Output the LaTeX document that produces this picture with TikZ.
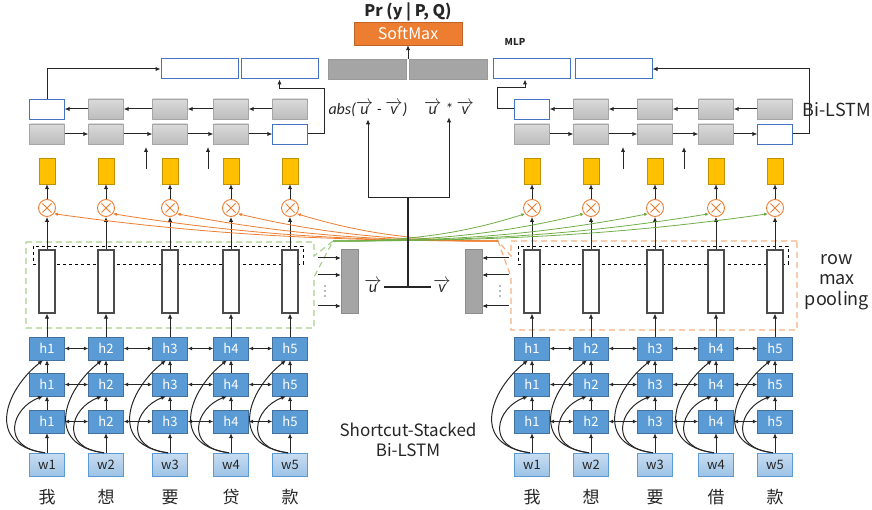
\documentclass[tikz,border=0pt]{standalone}
\usepackage{amsmath}
\usepackage{fontspec}
\setmainfont{Noto Sans CJK SC}
\newfontfamily\latinit{Carlito}
\usepackage{tikz}
\usetikzlibrary{arrows.meta,positioning,calc}

\definecolor{ink}{HTML}{262626}
\definecolor{hblue}{HTML}{5B9BD5}
\definecolor{hborder}{HTML}{41719C}
\definecolor{wtop}{HTML}{C9DDF1}
\definecolor{wbot}{HTML}{9DC3E6}
\definecolor{mlpblue}{HTML}{4472C4}
\definecolor{celltop}{HTML}{DADADA}
\definecolor{cellbot}{HTML}{BDBDBD}
\definecolor{cellline}{HTML}{A6A6A6}
\definecolor{gold}{HTML}{FFC000}
\definecolor{goldline}{HTML}{BF9000}
\definecolor{attor}{HTML}{ED7D31}
\definecolor{attgr}{HTML}{70AD47}
\definecolor{boxor}{HTML}{F4B183}
\definecolor{boxgr}{HTML}{A9D18E}
\definecolor{vecgray}{HTML}{A5A5A5}

\newcommand{\arrvec}[1]{$\overrightarrow{\hbox{#1}}$}

\begin{document}
\begin{tikzpicture}[
	x=1pt, y=-1pt,
	arr/.style={-{Latex[length=5pt,width=4.5pt]}, draw=ink, line width=1pt},
	darr/.style={{Latex[length=4.5pt,width=4pt]}-{Latex[length=4.5pt,width=4pt]}, draw=ink, line width=1pt},
	link/.style={draw=ink, line width=1.3pt},
	hbox/.style={rectangle, draw=hborder, fill=hblue, text=white, minimum width=35pt, minimum height=23pt, inner sep=0pt, font=\fontsize{13}{14}\selectfont},
	wbox/.style={rectangle, draw=hblue, top color=wtop, bottom color=wbot, text=ink, minimum width=35pt, minimum height=23pt, inner sep=0pt, font=\fontsize{13}{14}\selectfont},
	cell/.style={rectangle, draw=cellline, top color=celltop, bottom color=cellbot, minimum width=35pt, minimum height=20pt, inner sep=0pt},
	lastcell/.style={rectangle, draw=mlpblue, fill=white, minimum width=35pt, minimum height=20pt, inner sep=0pt},
	pool/.style={rectangle, draw=black!70, fill=white, minimum width=16pt, minimum height=63pt, inner sep=0pt, line width=1.1pt},
	attn/.style={rectangle, draw=goldline, fill=gold, minimum width=16pt, minimum height=26pt, inner sep=0pt},
	mul/.style={circle, draw=attor, fill=white, minimum size=17pt, inner sep=0pt, line width=0.9pt,
		path picture={\draw[attor, line width=0.9pt]
			([shift={(-4.5pt,-4.5pt)}]path picture bounding box.center) -- ([shift={(4.5pt,4.5pt)}]path picture bounding box.center)
			([shift={(-4.5pt,4.5pt)}]path picture bounding box.center) -- ([shift={(4.5pt,-4.5pt)}]path picture bounding box.center);}},
	vec/.style={rectangle, draw=black!45, fill=vecgray, minimum width=17pt, minimum height=64pt, inner sep=0pt},
	mlp/.style={rectangle, draw=mlpblue, fill=white, minimum width=77pt, minimum height=20pt, inner sep=0pt, line width=1pt},
	mlpgray/.style={rectangle, draw=black!40, fill=vecgray, minimum width=78pt, minimum height=20pt, inner sep=0pt},
	soft/.style={rectangle, draw=attor!80!black, fill=attor, text=white, minimum width=108pt, minimum height=23pt, inner sep=0pt, font=\fontsize{16}{18}\selectfont},
	oline/.style={-{Latex[length=4pt,width=3.5pt]}, draw=attor, line width=0.8pt},
	gline/.style={-{Latex[length=4pt,width=3.5pt]}, draw=attgr, line width=0.8pt},
	dot/.style={circle, fill=black!55, inner sep=0pt, minimum size=1.6pt},
	word/.style={text=ink, font=\fontsize{17}{18}\selectfont},
	lbl/.style={text=ink, align=center, font=\fontsize{17}{20}\selectfont},
	itlbl/.style={text=ink, inner sep=2pt, font=\latinit\itshape\fontsize{16}{18}\selectfont}
]
\useasboundingbox (0,0) rectangle (872,510);

% callout boxes for row max pooling, tips where the attention lines start
\coordinate (gtip) at (333,241);
\coordinate (otip) at (498,241);
\draw[boxgr, dashed, dash pattern=on 6pt off 4pt, line width=1.2pt]
	(26,242) -- (314,242) -- (314,256) -- (gtip) -- (314,277) -- (314,328) -- (26,328) -- cycle;
\draw[boxor, dashed, dash pattern=on 6pt off 4pt, line width=1.2pt]
	(797,241) -- (511,241) -- (511,256) -- (otip) -- (511,277) -- (511,330) -- (797,330) -- cycle;
\draw[black, dashed, line width=0.8pt] (33,246) rectangle (303,264);
\draw[black, dashed, line width=0.8pt] (518,246) rectangle (788,264);

\foreach \s/\dx in {L/0,R/485}{
	\foreach \x [count=\i] in {47,106,170,231,290}{
		\node[wbox] (w\s\i) at (\x+\dx,464.5) {w\i};
		\node[hbox] (hA\s\i) at (\x+\dx,421.5) {h\i};
		\node[hbox] (hB\s\i) at (\x+\dx,384.5) {h\i};
		\node[hbox] (hC\s\i) at (\x+\dx,348.5) {h\i};
		\node[pool] (pool\s\i) at (\x+\dx,281.5) {};
		\node[mul] (mul\s\i) at (\x+\dx,208) {};
		\node[attn] (att\s\i) at (\x+\dx,171) {};
		\ifnum\i=5 \node[lastcell] (fw\s\i) at (\x+\dx,134) {};
		\else \node[cell] (fw\s\i) at (\x+\dx,134) {}; \fi
		\ifnum\i=1 \node[lastcell] (bw\s\i) at (\x+\dx,109) {};
		\else \node[cell] (bw\s\i) at (\x+\dx,109) {}; \fi
	}
}
\foreach \s/\words in {L/{我,想,要,贷,款},R/{我,想,要,借,款}}{
	\foreach \c [count=\i] in \words
		\node[word] (c\s\i) at (w\s\i |- 0,497) {\c};
}

\foreach \s in {L,R}{
	\foreach \i in {1,...,5}{
		\draw[arr] (w\s\i) -- (hA\s\i);
		\draw[arr] (hA\s\i) -- (hB\s\i);
		\draw[arr] (hB\s\i) -- (hC\s\i);
		\draw[arr] (hC\s\i) -- (pool\s\i);
		\draw[arr] (pool\s\i) -- (mul\s\i);
		\draw[arr] (mul\s\i) -- (att\s\i);
		\draw[arr] ([xshift=-2pt]w\s\i.north) .. controls +(-45,-5) and +(-32,12) .. ([xshift=-4pt]hB\s\i.south);
		\draw[arr] ([xshift=-2pt]w\s\i.north) .. controls +(-60,-8) and +(-38,30) .. ([xshift=-4pt]hC\s\i.south);
	}
	\foreach \i [count=\j from 2] in {1,...,4}{
		\draw[darr] (hA\s\i) -- (hA\s\j);
		\draw[darr] (hB\s\i) -- (hB\s\j);
		\draw[darr] (hC\s\i) -- (hC\s\j);
		\draw[arr] (fw\s\i) -- (fw\s\j);
		\draw[arr] (bw\s\j) -- (bw\s\i);
	}
}
\foreach \x in {146,208,623,684}{
	\coordinate (up\x) at (\x,169);
	\draw[arr] (up\x) -- ++(0,-22);
}

% attention: pooled vector of one sentence multiplies into the other
\foreach \x [count=\i] in {47,106,170,231,290}
	\draw[oline] (otip) .. controls +({-0.35*(498-\x)},0) and +({0.35*(498-\x)},22) .. (mulL\i.-40);
\foreach \x [count=\i] in {532,591,655,716,775}
	\draw[gline] (gtip) .. controls +({0.35*(\x-333)},0) and +({-0.35*(\x-333)},22) .. (mulR\i.-140);

\node[vec] (vL) at (349.5,281) {};
\node[vec] (vR) at (473.5,281) {};
\foreach \y in {258,275,306}{
	\coordinate (pL\y) at (318,\y);
	\coordinate (pR\y) at (509,\y);
	\draw[arr] (pL\y) -- (pL\y -| vL.west);
	\draw[arr] (pR\y) -- (pR\y -| vR.east);
}
\foreach \y in {286,291,296}{
	\node[dot] at (325,\y) {};
	\node[dot] at (500,\y) {};
}

\node[itlbl, anchor=base] (u) at (373,293) {\arrvec{u}};
\node[itlbl, anchor=base] (v) at (442,293) {\arrvec{v}};
\coordinate (uv) at (408,287);
\coordinate (fork) at (408,198);
\node[itlbl, anchor=base] (absn) at (368,115) {abs(\arrvec{u} - \arrvec{v})};
\node[itlbl, anchor=base] (prod) at (449,115) {\arrvec{u} * \arrvec{v}};
\draw[link] (u.east |- uv) -- (v.west |- uv);
\draw[link] (uv) -- (fork);
\draw[arr] (fork) -| (absn.south);
\draw[arr] (fork) -| (prod.south);

\node[mlp] (m1) at (199.5,69) {};
\node[mlp] (m2) at (279.5,69) {};
\node[mlpgray] (m3) at (367.5,69) {};
\node[mlpgray] (m4) at (448,69) {};
\node[mlp] (m5) at (532,69) {};
\node[mlp] (m6) at (613.5,69) {};
\node[soft] (sm) at (408,33.5) {SoftMax};
\node[text=ink, font=\bfseries\fontsize{16}{18}\selectfont] (pr) at (408,12) {Pr (y | P, Q)};
\node[text=ink, font=\bfseries\fontsize{9.5}{10}\selectfont] (mlplbl) at (515,42) {MLP};
\draw[arr] (sm.south |- m4.north) -- (sm.south);

\draw[arr] (bwL1.north) |- (m1.west);
\draw[arr] (fwL5.east) -- ++(17,0) -- ++(0,-45) -| (m2.south);
\draw[arr] (bwR1.west) -- ++(-17,0) -- ++(0,-21) -| ([xshift=-7pt]m5.south);
\draw[arr] (fwR5.east) -- ++(17,0) |- (m6.east);

\node[lbl, font=\fontsize{18}{20}\selectfont] (bilstm) at (837,110) {Bi-LSTM};
\node[lbl, font=\fontsize{18}{20.5}\selectfont] (rmp) at (837,282) {row\\max\\pooling};
\node[lbl] (ssb) at (408,440) {Shortcut-Stacked\\Bi-LSTM};
\end{tikzpicture}
\end{document}
